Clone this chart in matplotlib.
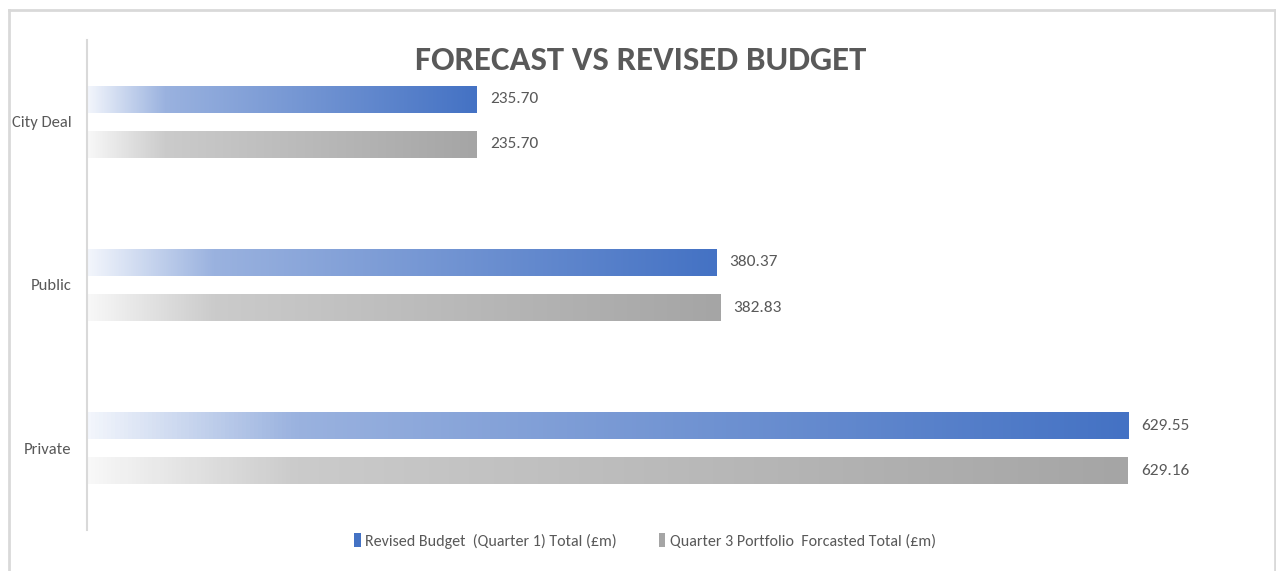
import matplotlib
matplotlib.use("Agg")
import matplotlib.pyplot as plt
from matplotlib import font_manager
from matplotlib.colors import LinearSegmentedColormap
from matplotlib.patches import Patch
from matplotlib.lines import Line2D
import numpy as np

# Calibri-like face, first one that is installed
installed = {f.name for f in font_manager.fontManager.ttflist}
for fam in ["Carlito", "Open Sans Condensed", "PT Sans Narrow",
            "Fira Sans Condensed", "Asap Condensed"]:
    if fam in installed:
        break
plt.rcParams['font.family'] = [fam, 'DejaVu Sans']

categories = ["City Deal", "Public", "Private"]
revised_budget = [235.70, 380.37, 629.55]
forecast_q3 = [235.70, 382.83, 629.16]
series_names = ["Revised Budget  (Quarter 1) Total (£m)",
                "Quarter 3 Portfolio  Forcasted Total (£m)"]

TEXT = "#595959"
GRID = "#d9d9d9"

blue_cmap = LinearSegmentedColormap.from_list(
    "blue_grad", [(0.0, "#f3f6fc"), (0.2, "#9ab2df"), (1.0, "#4472c4")])
gray_cmap = LinearSegmentedColormap.from_list(
    "gray_grad", [(0.0, "#f8f8f8"), (0.2, "#cbcbcb"), (1.0, "#a5a5a5")])

W, H = 1276, 571
fig = plt.figure(figsize=(W / 100, H / 100), dpi=100)
ax = fig.add_axes([87 / W, 1 - 530 / H, (1245 - 87) / W, (530 - 40) / H])

y = np.arange(len(categories))
offset = 0.138
height = 0.166

grad = np.linspace(0, 1, 256).reshape(1, -1)


def gradient_bars(values, ypos, cmap):
    bars = ax.barh(ypos, values, height=height, color="none", edgecolor="none")
    for bar in bars:
        x0, y0 = bar.get_x(), bar.get_y()
        w, h = bar.get_width(), bar.get_height()
        im = ax.imshow(grad, cmap=cmap, aspect="auto",
                       extent=(x0, x0 + w, y0, y0 + h), zorder=2)
        im.set_clip_path(bar)
        ax.annotate(f"{w:.2f}", xy=(x0 + w, y0 + h / 2), xytext=(9.5, 0),
                    textcoords="offset points", va="center", ha="left",
                    fontsize=12.5, color=TEXT)
    return bars


gradient_bars(revised_budget, y - offset, blue_cmap)
gradient_bars(forecast_q3, y + offset, gray_cmap)

ax.set_xlim(0, 700)
ax.set_ylim(2.5, -0.5)
ax.set_yticks(y)
ax.set_yticklabels(categories, fontsize=12, color=TEXT)
ax.tick_params(axis="y", length=0, pad=11)
ax.set_xticks([])
for side in ["top", "right", "bottom"]:
    ax.spines[side].set_visible(False)
ax.spines["left"].set_color(GRID)
ax.spines["left"].set_linewidth(1.5)

fig.text(641 / W, 1 - 60 / H, "FORECAST VS REVISED BUDGET", ha="center",
         va="center", fontsize=25, fontweight="bold", color=TEXT)

# chart border
fig.add_artist(Line2D([8.5 / W, 8.5 / W], [0, 1 - 10 / H], color=GRID, lw=2,
                      transform=fig.transFigure))
fig.add_artist(Line2D([8.5 / W, 1275 / W], [1 - 10 / H, 1 - 10 / H], color=GRID,
                      lw=2, transform=fig.transFigure))
fig.add_artist(Line2D([1275 / W, 1275 / W], [0, 1 - 10 / H], color=GRID, lw=2,
                      transform=fig.transFigure))

handles = [Patch(facecolor="#4472c4", edgecolor="none"),
           Patch(facecolor="#a5a5a5", edgecolor="none")]
fig.legend(handles, series_names, loc="center", bbox_to_anchor=(645 / W, 1 - 541 / H),
           ncol=2, frameon=False, fontsize=11.5, labelcolor=TEXT,
           handlelength=0.4, handleheight=0.9, handletextpad=0.3, columnspacing=2.6)

fig.savefig("out.png", dpi=100)
